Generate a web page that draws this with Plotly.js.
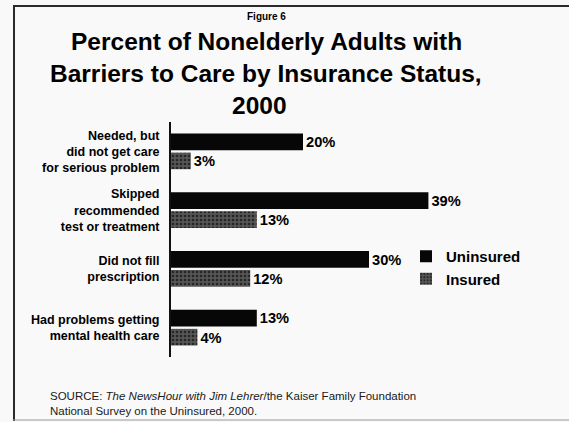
<!DOCTYPE html>
<html>
<head>
<meta charset="utf-8">
<script src="https://cdn.plot.ly/plotly-3.0.1.min.js"></script>
<style>
  html, body { margin: 0; padding: 0; background: #f9f9f9; }
  #chart { width: 569px; height: 422px; }
</style>
</head>
<body>
<div id="chart"></div>
<script>
const categories = [
  "Needed, but<br>did not get care<br>for serious problem",
  "Skipped<br>recommended<br>test or treatment",
  "Did not fill<br>prescription",
  "Had problems getting<br>mental health care"
];
const seriesNames = ["Uninsured", "Insured"];
const uninsured = [20, 39, 30, 13];
const insured = [3, 13, 12, 4];

const FONT = "Arial, 'Liberation Sans', Helvetica, sans-serif";

const traces = [
  {
    type: "bar",
    orientation: "h",
    name: seriesNames[0],
    y: categories,
    x: uninsured,
    marker: { color: "#070707", line: { width: 0 } },
    text: uninsured.map(v => v + "%"),
    textposition: "outside",
    cliponaxis: false,
    textfont: { family: FONT, size: 15, color: "#000", weight: "bold" },
    hoverinfo: "skip"
  },
  {
    type: "bar",
    orientation: "h",
    name: seriesNames[1],
    y: categories,
    x: insured,
    marker: {
      color: "#4a4a4a",
      line: { width: 0 },
      pattern: { shape: ".", fgcolor: "#262626", bgcolor: "#565656", size: 4, solidity: 0.35 }
    },
    text: insured.map(v => v + "%"),
    textposition: "outside",
    cliponaxis: false,
    textfont: { family: FONT, size: 15, color: "#000", weight: "bold" },
    hoverinfo: "skip"
  }
];

// plot area: left 171, top 122, width 264, height 235
const PL = 171, PT = 122, PW = 264, PH = 235;
const px = v => (v - PL) / PW;
const py = v => (PT + PH - v) / PH;

const layout = {
  width: 569,
  height: 422,
  paper_bgcolor: "#f9f9f9",
  plot_bgcolor: "rgba(0,0,0,0)",
  margin: { l: PL, t: PT, r: 569 - PL - PW, b: 422 - PT - PH, pad: 0 },
  barmode: "group",
  bargap: 0.35,
  bargroupgap: 0.13,
  font: { family: FONT, color: "#000" },
  showlegend: true,
  legend: {
    x: px(406), xanchor: "left",
    y: py(240), yanchor: "top",
    bgcolor: "rgba(0,0,0,0)",
    font: { family: FONT, size: 15, color: "#000", weight: "bold" },
    tracegroupgap: 0
  },
  xaxis: {
    range: [0, 40],
    visible: false,
    showgrid: false,
    zeroline: false,
    fixedrange: true
  },
  yaxis: {
    autorange: "reversed",
    showline: true,
    linecolor: "#111",
    linewidth: 2,
    ticks: "",
    ticklabelstandoff: 7,
    tickfont: { family: FONT, size: 12.5, color: "#000", weight: "bold" },
    showgrid: false,
    zeroline: false,
    fixedrange: true
  },
  annotations: [
    { text: "<b>Figure 6</b>", xref: "paper", yref: "paper", x: px(266), y: py(17),
      xanchor: "center", yanchor: "middle", showarrow: false,
      font: { family: FONT, size: 10, color: "#000" } },
    { text: "<b>Percent of Nonelderly Adults with</b>", xref: "paper", yref: "paper", x: px(266), y: py(41),
      xanchor: "center", yanchor: "middle", showarrow: false,
      font: { family: FONT, size: 24.5, color: "#000" } },
    { text: "<b>Barriers to Care by Insurance Status,</b>", xref: "paper", yref: "paper", x: px(266), y: py(74),
      xanchor: "center", yanchor: "middle", showarrow: false,
      font: { family: FONT, size: 24.5, color: "#000" } },
    { text: "<b>2000</b>", xref: "paper", yref: "paper", x: px(259), y: py(106),
      xanchor: "center", yanchor: "middle", showarrow: false,
      font: { family: FONT, size: 24.5, color: "#000" } },
    { text: "SOURCE: <i>The NewsHour with Jim Lehrer</i>/the Kaiser Family Foundation<br>National Survey on the Uninsured, 2000.",
      xref: "paper", yref: "paper", x: px(48), y: py(403),
      xanchor: "left", yanchor: "middle", align: "left", showarrow: false,
      font: { family: FONT, size: 11.5, color: "#1a1a1a" } }
  ],
  shapes: [
    { type: "line", xref: "paper", yref: "paper", x0: px(14), x1: px(14), y0: py(5), y1: py(421),
      line: { color: "#2a2a2a", width: 2 } },
    { type: "line", xref: "paper", yref: "paper", x0: px(13), x1: px(580), y0: py(6), y1: py(6),
      line: { color: "#2a2a2a", width: 2 } },
    { type: "line", xref: "paper", yref: "paper", x0: px(13), x1: px(580), y0: py(420), y1: py(420),
      line: { color: "#9a9a9a", width: 1 } }
  ]
};

Plotly.newPlot("chart", traces, layout, { staticPlot: true, displayModeBar: false });
</script>
</body>
</html>
